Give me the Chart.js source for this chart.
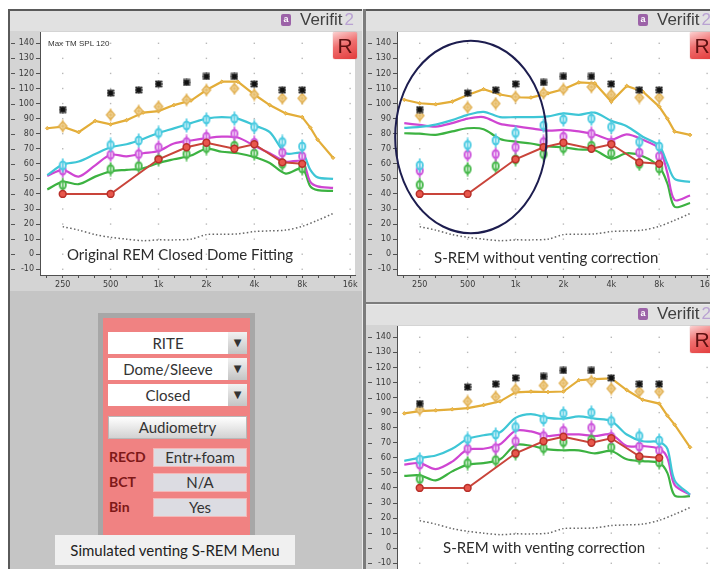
<!DOCTYPE html>
<html>
<head>
<meta charset="utf-8">
<script src="https://cdn.jsdelivr.net/npm/chart.js@4.4.1/dist/chart.umd.min.js"></script>
<style>
  html, body { margin: 0; padding: 0; }
  body { width: 710px; height: 569px; overflow: hidden; position: relative; background: #fff; font-family: Lato, "Liberation Sans", sans-serif; }
  #stage { position: absolute; left: 8px; top: 9px; right: 0; bottom: 0; background: #c5c5c5; }
  .rule { position: absolute; background: #5a5a5a; z-index: 5; }
  .panel { position: absolute; width: 353px; overflow: hidden; }
  .panel canvas { position: absolute; left: 0; top: 0; }
  .brand { position: absolute; left: 272px; top: 0; height: 20px; white-space: nowrap; z-index: 2; }
  .brand .icon { position: absolute; left: 0; top: 3px; width: 10px; height: 12px; border-radius: 2px; background: #9c63a8; color: #fff; font: bold 9px "Liberation Sans", sans-serif; line-height: 11px; text-align: center; }
  .brand .word { position: absolute; left: 19px; top: -1px; font: 17px "Liberation Sans", sans-serif; line-height: 20px; color: #404040; }
  .brand .word b { font-weight: normal; color: #b9a2d2; margin-left: 2px; }
  .rbtn { position: absolute; left: 324px; top: 21px; width: 24px; height: 27px; border-radius: 2px; z-index: 2;
          background: linear-gradient(160deg, #fbd0d0 0%, #f07070 45%, #e23a3a 100%); box-shadow: 0 0 1px #c05050;
          font: 21px "Liberation Sans", sans-serif; line-height: 27px; text-align: center; color: #5e1010; }
  .cap { position: absolute; z-index: 2; font-family: Lato, sans-serif; color: #2c2c2c; white-space: nowrap; line-height: 1; }
  .spl { position: absolute; left: 39px; top: 28px; z-index: 2; font: 8px "Liberation Sans", sans-serif; color: #333; white-space: nowrap; }
  #menu { position: absolute; left: 98px; top: 313px; width: 157px; height: 230px; box-sizing: border-box; background: #f08282; border: 5px solid #a7a7a7; border-bottom: none; }
  .sel { position: absolute; left: 108px; width: 120px; height: 22px; background: #fff; font: 15px Lato, sans-serif; line-height: 22px; color: #333; text-align: center; }
  .arr { position: absolute; left: 228px; width: 19px; height: 22px; background: linear-gradient(#f2f2f2, #c4c4c4); font: 10px "DejaVu Sans", sans-serif; line-height: 22px; text-align: center; color: #333; }
  .btn { position: absolute; left: 108px; top: 416px; width: 139px; height: 23px; box-sizing: border-box; border: 1px solid #b8b8b8; background: linear-gradient(#ffffff, #d2d2d2); font: 15px Lato, sans-serif; line-height: 21px; text-align: center; color: #333; }
  .lbl { position: absolute; left: 109px; font: bold 14px Lato, sans-serif; color: #7e1818; line-height: 18px; }
  .val { position: absolute; left: 153px; width: 94px; height: 19px; background: #dcdce2; border: 1px solid #f4b8b8; box-sizing: border-box; font: 15px Lato, sans-serif; line-height: 17px; text-align: center; color: #333; }
  #menuCap { position: absolute; left: 55px; top: 535px; width: 240px; height: 30px; background: #f0f0f0; font: 15px Lato, sans-serif; line-height: 30px; text-align: center; color: #222; }
</style>
</head>
<body>
<div id="stage"></div>

<div class="panel" id="pA" style="left:9px; top:11px; height:280px;"></div>
<div class="panel" id="pB" style="left:366px; top:11px; height:291px;"></div>
<div class="panel" id="pC" style="left:366px; top:305px; height:290px;"></div>

<div class="rule" style="left:8px; top:9px; width:702px; height:2px;"></div>
<div class="rule" style="left:8px; top:9px; width:2px; height:560px;"></div>
<div class="rule" style="left:362px; top:9px; width:1px; height:560px; background:#ececec;"></div>
<div class="rule" style="left:363px; top:9px; width:3px; height:560px; background:#7c7c7c;"></div>
<div class="rule" style="left:366px; top:302px; width:344px; height:2px; background:#7c7c7c;"></div>
<div class="rule" style="left:366px; top:304px; width:344px; height:1px; background:#ececec;"></div>

<div id="menu"></div>
<div class="sel" style="top:332px;">RITE</div><div class="arr" style="top:332px;">▼</div>
<div class="sel" style="top:358px;">Dome/Sleeve</div><div class="arr" style="top:358px;">▼</div>
<div class="sel" style="top:384px;">Closed</div><div class="arr" style="top:384px;">▼</div>
<div class="btn">Audiometry</div>
<div class="lbl" style="top:448px;">RECD</div><div class="val" style="top:448px;">Entr+foam</div>
<div class="lbl" style="top:473px;">BCT</div><div class="val" style="top:473px;">N/A</div>
<div class="lbl" style="top:498px;">Bin</div><div class="val" style="top:498px;">Yes</div>
<div id="menuCap">Simulated venting S-REM Menu</div>

<script>
// ---------- axes ----------
const yTickValues = [-10, 0, 10, 20, 30, 40, 50, 60, 70, 80, 90, 100, 110, 120, 130, 140];
const xTickFreqs  = [250, 500, 1000, 2000, 4000, 8000, 16000];
const xTickLabels = ['250', '500', '1k', '2k', '4k', '8k', '16k'];

// ---------- measured response curves (dB SPL) on a third-octave grid ----------
const curveFreqs = [200, 250, 315, 400, 500, 630, 800, 1000, 1250, 1600, 2000, 2500, 3150, 4000, 5000, 6300, 8000, 9000, 10000, 12500];

// Original REM, closed dome
const origMpo     = [83.6, 84.7, 81, 88.5, 86.2, 89, 94, 95, 99, 102, 109, 114.5, 114.5, 106, 99, 93.5, 91, 84, 76, 64];
const origLoud    = [52.5, 59.5, 61.5, 66.5, 71, 73, 76.5, 80.5, 83.5, 87, 90, 91, 90, 85.5, 81, 67, 67, 56, 51, 50];
const origAverage = [52, 56, 51.5, 59, 66, 65, 67, 68.5, 73.5, 75.5, 77, 78, 77.5, 72, 67, 61.5, 61.5, 48, 45, 44];
const origSoft    = [43, 48, 46.5, 51.5, 55, 56, 57, 60.5, 63, 65.5, 70, 68, 67, 64.5, 60.5, 53.5, 57, 45, 42.5, 42];

// S-REM without venting correction
const rawMpo     = [102.5, 100.2, 99.5, 101.3, 105.7, 109.5, 106, 104.2, 104, 106.8, 109.5, 114, 113.5, 101.3, 111.7, 108, 98, 90, 81.4, 79.2];
const rawLoud    = [83.8, 84.5, 86, 89, 92.5, 94.5, 91, 91, 91, 91.5, 93.5, 92.5, 94, 88.5, 85, 78, 72, 60, 50, 48];
const rawAverage = [87, 85.8, 84.7, 87, 90, 91, 86.5, 85, 83.5, 82, 82.5, 81.5, 79.5, 76, 79.5, 76, 70, 54, 36, 39];
const rawSoft    = [80.3, 80, 79.2, 81.5, 83.6, 83, 76.5, 74.7, 73.5, 71.5, 71, 69.5, 69, 63.5, 67, 65, 58, 47, 31.5, 34];

// S-REM with venting correction
const ventMpo     = [89.5, 91, 91.5, 92.2, 93, 95, 97.5, 103.5, 104, 103.7, 104, 111.5, 112.2, 112.7, 105, 98.5, 96, 88, 82, 67];
const ventLoud    = [58, 60, 61.5, 66, 72.5, 75, 77, 86.5, 89, 86.5, 86, 87.5, 86, 84.5, 75.5, 71, 70.5, 66, 45, 35.5];
const ventAverage = [55.5, 56.5, 52.5, 57.5, 65.5, 66, 69, 78, 77.5, 74.5, 75.5, 75.5, 74.5, 75.5, 67.8, 67.8, 66, 60, 42, 35.5];
const ventSoft    = [48, 48.4, 45, 51, 55.5, 56.5, 59, 68.5, 68, 65.6, 65, 65, 63, 64.5, 59, 57.8, 56.7, 50, 35, 34.5];

// Hearing threshold (dB SPL)
const thresholdFreqs = [250, 500, 1000, 1500, 2000, 3000, 4000, 6000, 8000];
const thresholdDb    = [40, 40, 63, 71, 74, 70, 73, 61, 60];

// Uncomfortable levels and prescriptive targets
const targetFreqs = [250, 500, 750, 1000, 1500, 2000, 3000, 4000, 6000, 8000];
const uclDb       = [96, 107, 109, 113, 114, 118, 118, 113, 109, 109];
const loudTarget    = [59, 72.5, 75.5, 80.5, 85.5, 89.5, 90, 84.5, 74.5, 71.5];
const averageTarget = [55.5, 66, 66.5, 71, 74.5, 78, 80, 74, 67.5, 65];
const softTarget    = [46, 56.5, 58.5, 63, 66.5, 70.5, 72, 67, 60, 57];
const origMpoTarget = [85, 92.5, 95, 98, 102.5, 109, 110, 106, 103.5, 103.5];
const rawMpoTarget  = [92, 97.5, 100, 104.5, 107, 109.5, 111, 106, 104, 104];
const ventMpoTarget = [92, 97.5, 100.5, 105.5, 108, 109.5, 111, 106, 104, 104];

// Ear-canal noise floor (dotted)
const noiseFreqs = [250, 315, 400, 500, 630, 800, 1000, 1250, 1600, 2000, 2500, 3150, 4000, 5000, 6300, 8000, 10000, 12500];
const noiseDb    = [18.3, 16, 13, 11.2, 10, 9, 9.5, 9.5, 10, 13, 13.2, 13.5, 15, 15.5, 16, 18.5, 22.5, 27];

// Circled low-frequency region: centre frequency, half-width in octaves, centre level, half-height in dB
const circleFreq = 524, circleHalfOct = 1.58, circleDb = 77.8, circleHalfDb = 63.9;

// ---------- helpers ----------
const octave = f => Math.log2(f / 250);
const pts = (freqs, vals) => freqs.map((f, i) => ({ x: octave(f), y: vals[i] }));

const COL = { mpo: '#e3ad38', loud: '#3ec6d6', avg: '#cf45d2', soft: '#3cb241', red: '#c9443a' };

// Speech target symbol: an open oval crossed by a short vertical bar
function targetIcon(color) {
  const c = document.createElement('canvas');
  c.width = 10; c.height = 15;
  const g = c.getContext('2d');
  g.fillStyle = 'rgba(255,255,255,0.85)';
  g.strokeStyle = color; g.lineWidth = 2;
  g.beginPath(); g.ellipse(5, 7.5, 3, 4, 0, 0, Math.PI * 2); g.fill(); g.stroke();
  g.lineWidth = 1.6;
  g.beginPath(); g.moveTo(5, 0.5); g.lineTo(5, 14.5); g.stroke();
  return c;
}
// MPO target symbol: pale diamond with a cross
function diamondIcon(color) {
  const c = document.createElement('canvas');
  c.width = 12; c.height = 14;
  const g = c.getContext('2d');
  g.fillStyle = '#f8e4b8'; g.strokeStyle = color; g.lineWidth = 1.6;
  g.beginPath(); g.moveTo(6, 2.2); g.lineTo(10, 7); g.lineTo(6, 11.8); g.lineTo(2, 7); g.closePath();
  g.fill(); g.stroke();
  g.lineWidth = 1.1; g.beginPath(); g.moveTo(6, 0.5); g.lineTo(6, 13.5); g.moveTo(3.5, 7); g.lineTo(8.5, 7); g.stroke();
  return c;
}
// Uncomfortable-level symbol: boxed asterisk
function uclIcon() {
  const c = document.createElement('canvas');
  c.width = 8; c.height = 8;
  const g = c.getContext('2d');
  g.fillStyle = '#8c8c8c'; g.fillRect(0.5, 0.5, 7, 7);
  g.strokeStyle = '#111'; g.lineWidth = 1.5;
  g.beginPath();
  g.moveTo(1, 1); g.lineTo(7, 7); g.moveTo(7, 1); g.lineTo(1, 7);
  g.moveTo(4, 0.5); g.lineTo(4, 7.5); g.moveTo(0.5, 4); g.lineTo(7.5, 4);
  g.stroke();
  return c;
}
const loudIcon = targetIcon('#4ccbe2');
const avgIcon = targetIcon('#cc55dc');
const softIcon = targetIcon('#46b84a');
const mpoIcon = diamondIcon('#e2b256');
const uclMark = uclIcon();

function datasets(mpo, loud, avg, soft, mpoTarget) {
  const curve = (vals, color, order) => ({
    data: pts(curveFreqs, vals), borderColor: color, borderWidth: 2.2, pointRadius: 0,
    tension: 0.3, fill: false, order
  });
  const targets = (vals, icon, order) => ({
    data: pts(targetFreqs, vals), showLine: false, pointStyle: icon, pointRadius: 4, order
  });
  return [
    { data: pts(targetFreqs, uclDb), showLine: false, pointStyle: uclMark, pointRadius: 4, order: 0 },
    { data: pts(thresholdFreqs, thresholdDb), borderColor: COL.red, borderWidth: 2, tension: 0,
      pointRadius: 3.4, pointBackgroundColor: '#e8574c', pointBorderColor: '#b8302a', pointBorderWidth: 1.5, order: 1 },
    targets(mpoTarget, mpoIcon, 2),
    targets(loudTarget, loudIcon, 3),
    targets(averageTarget, avgIcon, 4),
    targets(softTarget, softIcon, 5),
    Object.assign(curve(mpo, COL.mpo, 6), { tension: 0, pointRadius: 1.8, pointStyle: 'rectRot',
      pointBackgroundColor: '#eebb55', pointBorderColor: COL.mpo, pointBorderWidth: 1 }),
    curve(loud, COL.loud, 7),
    curve(avg, COL.avg, 8),
    curve(soft, COL.soft, 9),
    { data: pts(noiseFreqs, noiseDb), borderColor: '#666', borderWidth: 1.5, borderDash: [1.5, 2.3],
      pointRadius: 0, tension: 0.3, order: 10 }
  ];
}

// Panel background, white plot field and dotted reference grid
const framePlugin = {
  id: 'frame',
  beforeDraw(chart) {
    const { ctx, chartArea: a, width, height } = chart;
    ctx.save();
    ctx.fillStyle = '#d4d4d4'; ctx.fillRect(0, 0, width, height);
    ctx.fillStyle = '#e1e1e1'; ctx.fillRect(0, 0, width, 20);
    ctx.fillStyle = '#ffffff'; ctx.fillRect(a.left, a.top, a.right - a.left, a.bottom - a.top);
    ctx.restore();
  },
  beforeDatasetsDraw(chart) {
    const { ctx, scales: { x, y } } = chart;
    ctx.save();
    ctx.fillStyle = '#b9b9b9';
    xTickFreqs.forEach(f => {
      const px = x.getPixelForValue(octave(f));
      yTickValues.forEach(v => {
        const py = y.getPixelForValue(v);
        ctx.fillRect(px - 0.7, py - 0.7, 1.4, 1.4);
      });
    });
    ctx.restore();
  },
  afterDraw(chart) {
    const { ctx, scales: { y } } = chart;
    ctx.save();
    ctx.strokeStyle = '#555'; ctx.lineWidth = 1;
    yTickValues.forEach(v => {
      const py = Math.round(y.getPixelForValue(v)) + 0.5;
      ctx.beginPath(); ctx.moveTo(2, py); ctx.lineTo(6, py); ctx.stroke();
    });
    ctx.restore();
  }
};

const circlePlugin = {
  id: 'circleNote',
  afterDraw(chart) {
    const { ctx, scales: { x, y } } = chart;
    const cx = x.getPixelForValue(octave(circleFreq));
    const rx = x.getPixelForValue(octave(circleFreq) + circleHalfOct) - cx;
    const cy = y.getPixelForValue(circleDb);
    const ry = y.getPixelForValue(circleDb - circleHalfDb) - cy;
    ctx.save();
    ctx.strokeStyle = '#1d1d4f'; ctx.lineWidth = 2;
    ctx.beginPath(); ctx.ellipse(cx, cy, rx, ry, 0, 0, Math.PI * 2); ctx.stroke();
    ctx.restore();
  }
};

function buildPanel(id, height, sets, caption, capStyle, extraPlugins, showSpl) {
  const host = document.getElementById(id);
  host.innerHTML =
    '<canvas width="353" height="' + height + '"></canvas>' +
    '<div class="brand"><span class="icon">a</span><span class="word">Verifit<b>2</b></span></div>' +
    '<div class="rbtn">R</div>' +
    (showSpl ? '<div class="spl">Max TM SPL 120</div>' : '') +
    '<div class="cap" style="' + capStyle + '">' + caption + '</div>';
  const canvas = host.querySelector('canvas');
  const axisFont = { family: '"DejaVu Sans", sans-serif', size: 8 };
  return new Chart(canvas, {
    type: 'line',
    data: { datasets: sets },
    options: {
      responsive: false, animation: false, devicePixelRatio: 1,
      layout: { padding: { top: 21, right: 7, left: 0, bottom: 0 } },
      plugins: { legend: { display: false }, tooltip: { enabled: false }, title: { display: false } },
      scales: {
        x: {
          type: 'linear', min: -0.474, max: 6.102, bounds: 'data',
          afterBuildTicks(s) {
            const t = [];
            for (let k = -1; k <= 18; k++) t.push({ value: k / 3 });
            s.ticks = t;
          },
          afterFit(s) { s.height = height - 264; },
          ticks: {
            autoSkip: false, maxRotation: 0, minRotation: 0, padding: 2, color: '#3a3a3a', font: axisFont,
            callback(v) {
              const i = xTickFreqs.findIndex(f => Math.abs(octave(f) - v) < 1e-6);
              return i >= 0 ? xTickLabels[i] : '';
            }
          },
          grid: { drawOnChartArea: false, drawTicks: true, tickLength: 3, color: '#505050', lineWidth: 1 },
          border: { display: true, color: '#505050', width: 1 }
        },
        y: {
          type: 'linear', min: -13.8, max: 147.5, bounds: 'data',
          afterBuildTicks(s) { s.ticks = yTickValues.map(v => ({ value: v })); },
          afterFit(s) { s.width = 31; },
          ticks: { autoSkip: false, padding: 2, color: '#3a3a3a', font: axisFont, callback: v => String(v) },
          grid: { drawOnChartArea: false, drawTicks: true, tickLength: 4, color: '#505050', lineWidth: 1 },
          border: { display: true, color: '#505050', width: 1 }
        }
      }
    },
    plugins: [framePlugin].concat(extraPlugins)
  });
}

buildPanel('pA', 280, datasets(origMpo, origLoud, origAverage, origSoft, origMpoTarget),
  'Original REM Closed Dome Fitting', 'left:58px; top:236px; font-size:15px;', [], true);
buildPanel('pB', 291, datasets(rawMpo, rawLoud, rawAverage, rawSoft, rawMpoTarget),
  'S-REM without venting correction', 'left:68px; top:239px; font-size:15px;', [circlePlugin], false);
buildPanel('pC', 290, datasets(ventMpo, ventLoud, ventAverage, ventSoft, ventMpoTarget),
  'S-REM with venting correction', 'left:77px; top:235px; font-size:15px;', [], false);
</script>
</body>
</html>
